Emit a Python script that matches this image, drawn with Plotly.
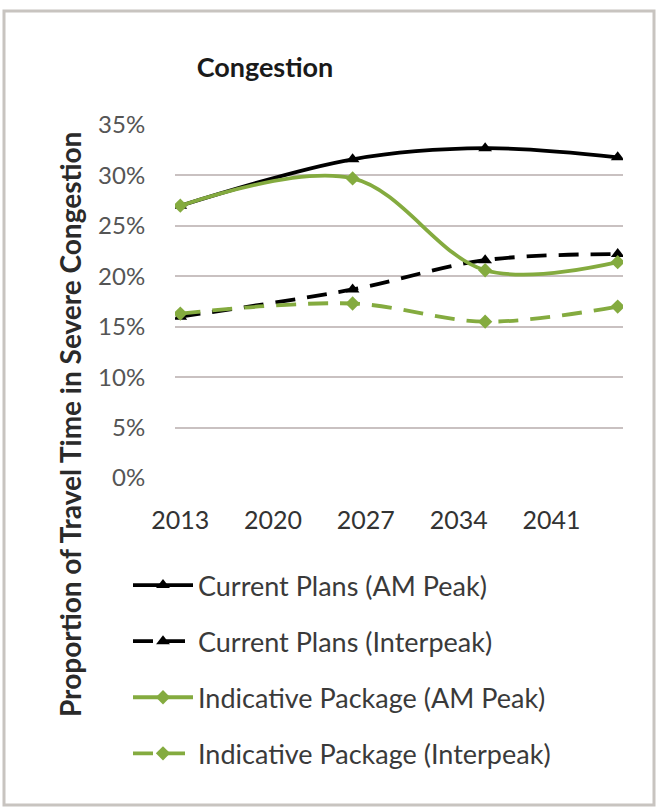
import plotly.graph_objects as go

years = [2013, 2026, 2036, 2046]
current_am = [27.0, 31.6, 32.7, 31.8]
current_inter = [16.0, 18.7, 21.6, 22.2]
indicative_am = [27.0, 29.7, 20.6, 21.4]
indicative_inter = [16.3, 17.3, 15.5, 17.0]

x_ticks = [2013, 2020, 2027, 2034, 2041]
y_ticks = [0, 5, 10, 15, 20, 25, 30, 35]
y_tick_text = [f"{v}%" for v in y_ticks]

BLACK = "#000000"
GREEN = "#84ab3f"
FONT = "Lato, 'Open Sans', sans-serif"
DASH = "20px,12px"

series = [
    ("Current Plans (AM Peak)", current_am, BLACK, "solid", "triangle-up", 12),
    ("Current Plans (Interpeak)", current_inter, BLACK, DASH, "triangle-up", 12),
    ("Indicative Package (AM Peak)", indicative_am, GREEN, "solid", "diamond", 11),
    ("Indicative Package (Interpeak)", indicative_inter, GREEN, DASH, "diamond", 11),
]

fig = go.Figure()
for i, (name, vals, col, dash, sym, ms) in enumerate(series):
    fig.add_trace(go.Scatter(
        x=years, y=vals, name=name, mode="lines+markers",
        line=dict(color=col, width=3.8, dash=dash, shape="spline"),
        marker=dict(symbol=sym, size=ms, color=col),
        legendgroup=f"g{i}",
    ))

W, H = 658, 808
L, R, T, B = 175, 35, 125, 330
pw, ph = W - L - R, H - T - B

def px(x):
    return (x - L) / pw

def py(y):
    return (H - B - y) / ph

fig.update_layout(
    width=W, height=H,
    margin=dict(l=L, r=R, t=T, b=B),
    paper_bgcolor="white", plot_bgcolor="white",
    font=dict(family=FONT, color="#404040"),
    title=dict(text="<b>Congestion</b>", x=px(265), xref="paper", xanchor="center",
               y=1 - 68 / H, yanchor="middle", font=dict(size=27, color="#1a1a1a", family=FONT)),
    showlegend=True,
    legend=dict(x=px(128), y=py(561), xanchor="left", yanchor="top",
                font=dict(size=27, color="#3a3a3a", family=FONT),
                tracegroupgap=18, itemwidth=60, bgcolor="rgba(0,0,0,0)"),
    xaxis=dict(range=[2012.6, 2046.4], tickvals=x_ticks, ticktext=[str(v) for v in x_ticks],
               showgrid=False, zeroline=False, showline=False,
               ticks="outside", ticklen=20, tickcolor="rgba(0,0,0,0)",
               tickfont=dict(size=25, color="#333333", family=FONT)),
    yaxis=dict(range=[0, 35], tickvals=y_ticks, ticktext=y_tick_text,
               showgrid=True, gridcolor="#c9c1c1", gridwidth=2,
               zeroline=False, showline=False,
               ticks="outside", ticklen=24, tickcolor="rgba(0,0,0,0)",
               tickfont=dict(size=24, color="#555555", family=FONT)),
    annotations=[dict(text="<b>Proportion of Travel Time in Severe Congestion</b>",
                      x=px(70), y=py(425), xref="paper", yref="paper", textangle=-90,
                      xanchor="center", yanchor="middle",
                      showarrow=False, font=dict(size=28, color="#2a2a2a", family=FONT))],
    shapes=[dict(type="rect", xref="paper", yref="paper",
                 x0=px(4), x1=px(654), y0=py(805), y1=py(11),
                 line=dict(color="#c8c4c0", width=3), fillcolor="rgba(0,0,0,0)", layer="below")],
)

fig.write_html("out.html", config={"displayModeBar": False},
               post_script="document.body.style.margin='0';document.body.style.overflow='hidden';")
